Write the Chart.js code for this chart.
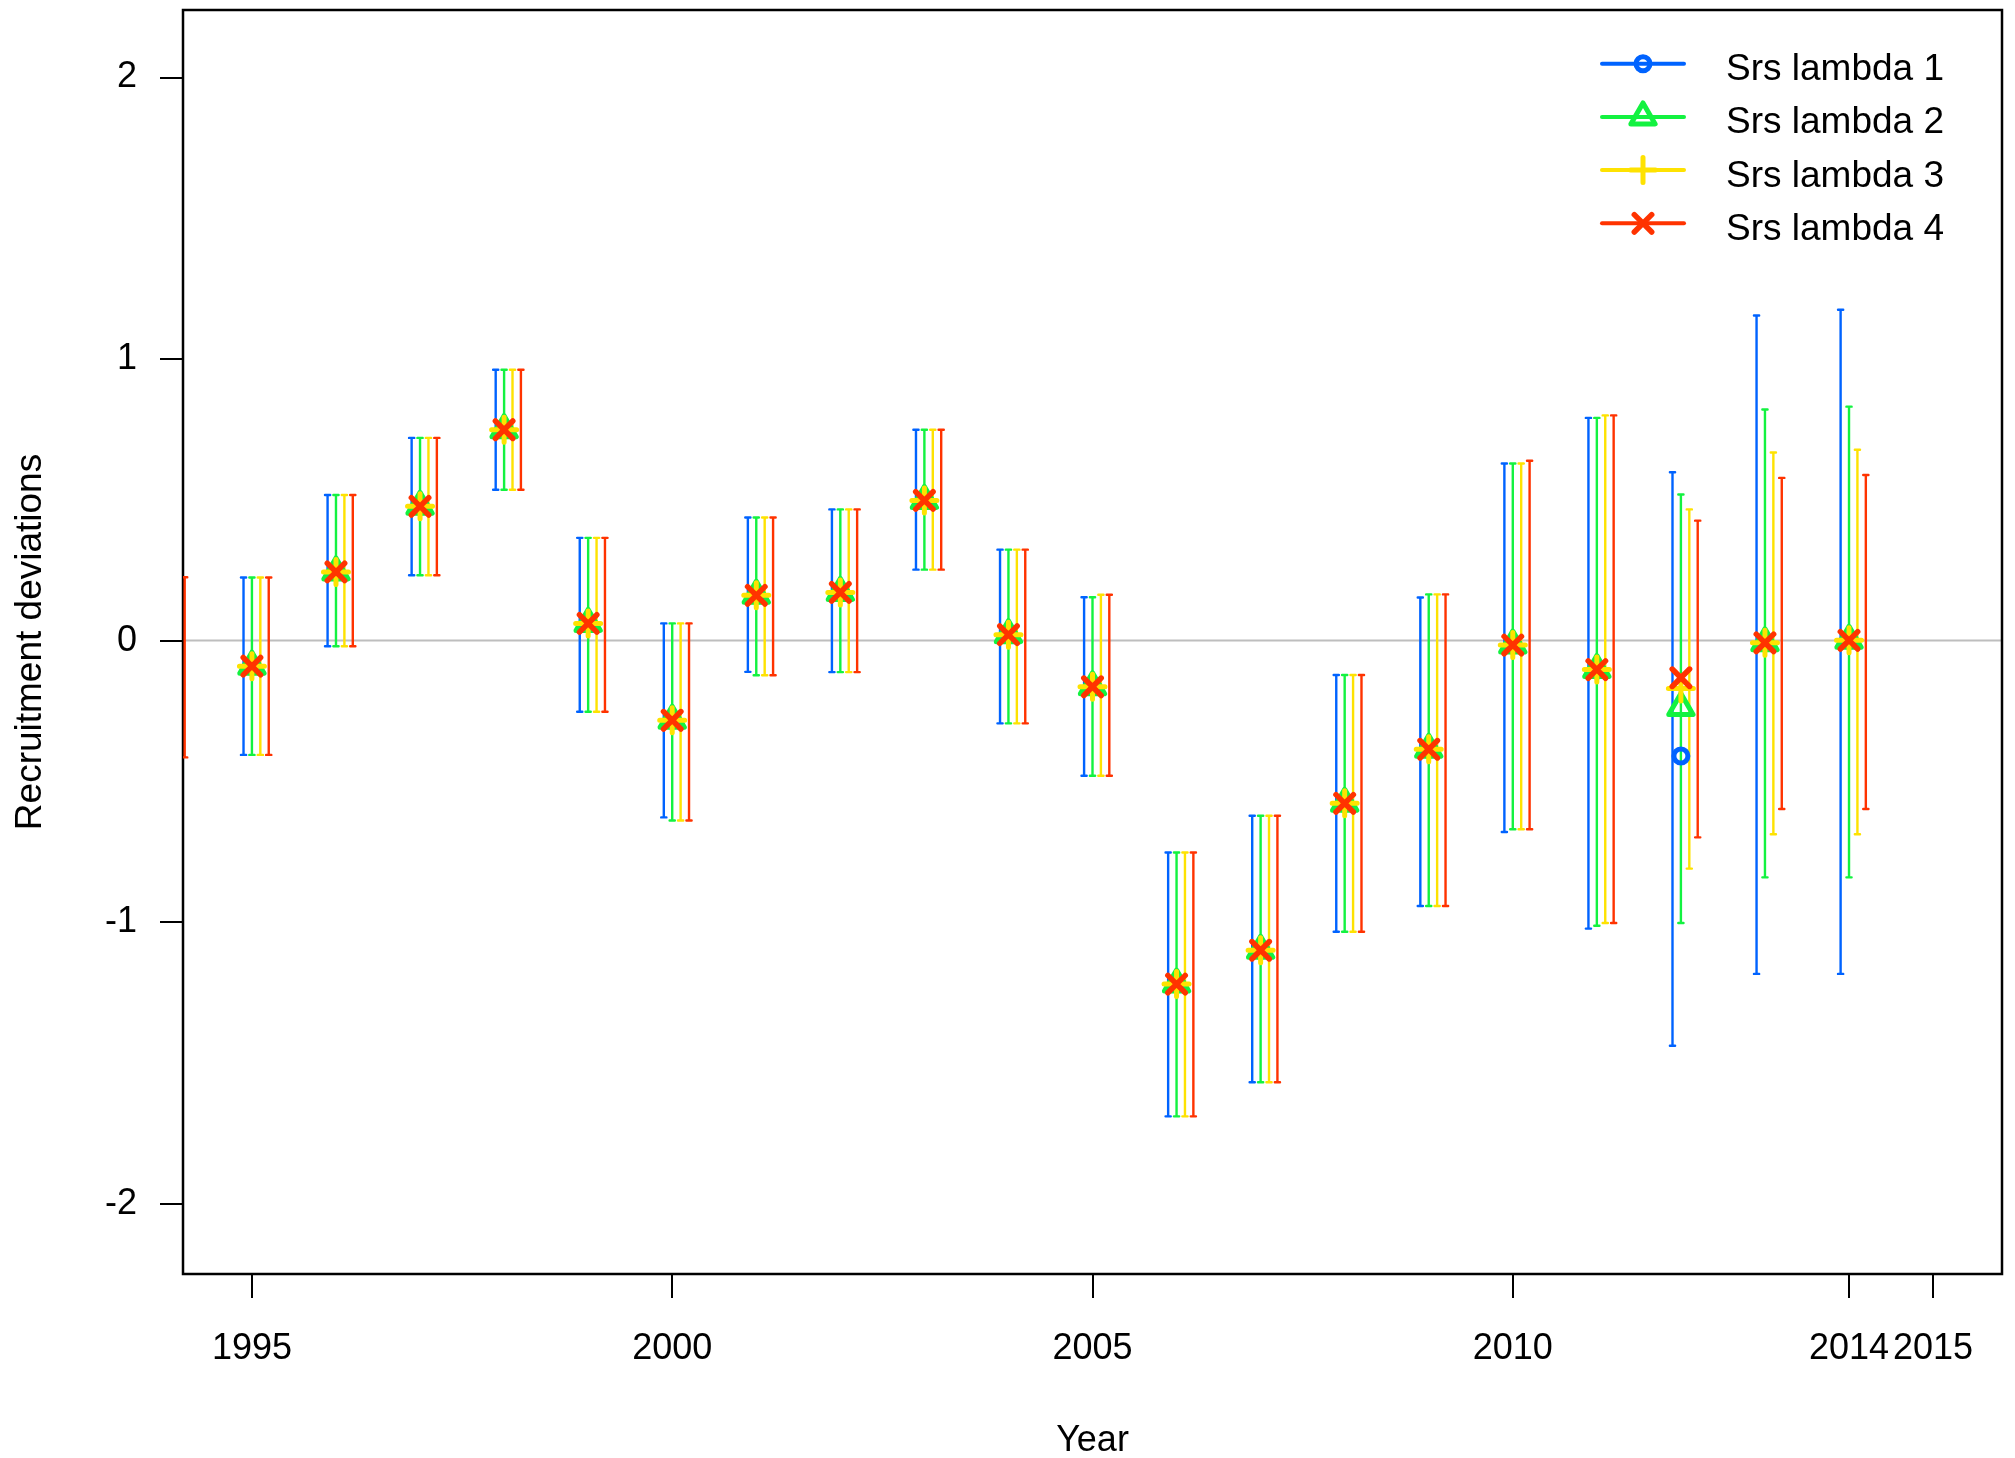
<!DOCTYPE html>
<html>
<head>
<meta charset="utf-8">
<script src="https://cdn.jsdelivr.net/npm/chart.js@4.4.1/dist/chart.umd.min.js"></script>
<style>
html,body{margin:0;padding:0;background:#ffffff;}
#wrap{width:2015px;height:1458px;}
</style>
</head>
<body>
<div id="wrap"><canvas id="c" width="2015" height="1458"></canvas></div>
<script>
// ---------------- DATA ----------------
const years = [1995,1996,1997,1998,1999,2000,2001,2002,2003,2004,2005,2006,2007,2008,2009,2010,2011,2012,2013,2014];
const yearsRed = [1994,1995,1996,1997,1998,1999,2000,2001,2002,2003,2004,2005,2006,2007,2008,2009,2010,2011,2012,2013,2014];

const seriesNames = ['Srs lambda 1','Srs lambda 2','Srs lambda 3','Srs lambda 4'];
const seriesColors = ['#0063FF','#13F240','#FEE201','#FF3300'];

// Srs lambda 1
const est1 = [-0.091,0.244,0.477,0.749,0.061,-0.283,0.161,0.171,0.498,0.021,-0.164,-1.220,-1.100,-0.578,-0.386,-0.016,-0.105,-0.410,-0.008,0.001];
const hi1  = [0.224,0.517,0.720,0.962,0.365,0.061,0.437,0.466,0.749,0.323,0.154,-0.753,-0.622,-0.122,0.153,0.629,0.791,0.598,1.155,1.175];
const lo1  = [-0.406,-0.020,0.232,0.536,-0.253,-0.628,-0.111,-0.112,0.252,-0.294,-0.480,-1.690,-1.569,-1.034,-0.943,-0.680,-1.023,-1.439,-1.184,-1.184];
// Srs lambda 2
const est2 = [-0.091,0.244,0.477,0.749,0.061,-0.283,0.161,0.171,0.498,0.021,-0.164,-1.220,-1.100,-0.578,-0.386,-0.016,-0.103,-0.238,-0.008,0.001];
const hi2  = [0.224,0.517,0.720,0.962,0.365,0.061,0.437,0.466,0.749,0.323,0.154,-0.753,-0.622,-0.122,0.164,0.629,0.791,0.519,0.821,0.831];
const lo2  = [-0.406,-0.020,0.232,0.536,-0.253,-0.639,-0.123,-0.112,0.252,-0.294,-0.480,-1.690,-1.569,-1.034,-0.943,-0.670,-1.013,-1.003,-0.841,-0.841];
// Srs lambda 3
const est3 = [-0.091,0.244,0.477,0.749,0.061,-0.283,0.161,0.171,0.498,0.021,-0.164,-1.220,-1.100,-0.578,-0.386,-0.016,-0.103,-0.170,-0.008,0.001];
const hi3  = [0.224,0.517,0.720,0.962,0.365,0.061,0.437,0.466,0.749,0.323,0.163,-0.753,-0.622,-0.122,0.164,0.629,0.800,0.466,0.668,0.678];
const lo3  = [-0.406,-0.020,0.232,0.536,-0.253,-0.639,-0.123,-0.112,0.252,-0.294,-0.480,-1.690,-1.569,-1.034,-0.943,-0.670,-1.003,-0.810,-0.688,-0.688];
// Srs lambda 4 (starts in 1994)
const est4 = [-0.095,-0.091,0.244,0.477,0.749,0.061,-0.283,0.161,0.171,0.498,0.021,-0.164,-1.220,-1.100,-0.578,-0.386,-0.016,-0.103,-0.132,-0.008,0.001];
const hi4  = [0.225,0.224,0.517,0.720,0.962,0.365,0.061,0.437,0.466,0.749,0.323,0.163,-0.753,-0.622,-0.122,0.164,0.639,0.800,0.426,0.578,0.588];
const lo4  = [-0.415,-0.406,-0.020,0.232,0.536,-0.253,-0.639,-0.123,-0.112,0.252,-0.294,-0.480,-1.690,-1.569,-1.034,-0.943,-0.670,-1.003,-0.699,-0.598,-0.598];

// horizontal shift of each model's interval bars (years)
const barShift = [-0.1, 0.0, 0.1, 0.2];

const xTickValues = [1995,2000,2005,2010,2014,2015];
const yTickValues = [-2,-1,0,1,2];

// ---------------- BUILD ----------------
const FONT = '"Liberation Sans", Arial, Helvetica, sans-serif';
Chart.defaults.font.family = FONT;
Chart.defaults.font.size = 36;
Chart.defaults.color = '#000';

const markerStyles = [
  {style:'circle',   radius:7,    width:5},
  {style:'triangle', radius:14,   width:5},
  {style:'cross',    radius:12.5, width:5},
  {style:'crossRot', radius:12.3, width:5.5}
];

const series = [
  {years: years,    est: est1, hi: hi1, lo: lo1},
  {years: years,    est: est2, hi: hi2, lo: lo2},
  {years: years,    est: est3, hi: hi3, lo: lo3},
  {years: yearsRed, est: est4, hi: hi4, lo: lo4}
];

const datasets = series.map((s, k) => ({
  label: seriesNames[k],
  data: s.years.map((yr, i) => ({x: yr, y: s.est[i]})),
  showLine: false,
  pointStyle: markerStyles[k].style,
  pointRadius: markerStyles[k].radius,
  pointHoverRadius: markerStyles[k].radius,
  pointBorderWidth: markerStyles[k].width,
  pointBorderColor: seriesColors[k],
  pointBackgroundColor: 'rgba(0,0,0,0)',
  borderColor: seriesColors[k],
  backgroundColor: seriesColors[k],
  order: 4 - k,
  clip: 0
}));

function drawMarker(ctx, k, x, y) {
  const m = markerStyles[k], r = m.radius;
  ctx.save();
  ctx.strokeStyle = seriesColors[k];
  ctx.lineWidth = m.width;
  ctx.lineCap = 'round';
  ctx.lineJoin = 'round';
  ctx.beginPath();
  if (m.style === 'circle') {
    ctx.arc(x, y, r, 0, Math.PI * 2);
  } else if (m.style === 'triangle') {
    ctx.moveTo(x, y - r);
    ctx.lineTo(x + 0.8660254 * r, y + 0.5 * r);
    ctx.lineTo(x - 0.8660254 * r, y + 0.5 * r);
    ctx.closePath();
  } else if (m.style === 'cross') {
    ctx.moveTo(x - r, y); ctx.lineTo(x + r, y);
    ctx.moveTo(x, y - r); ctx.lineTo(x, y + r);
  } else {
    const d = r * Math.SQRT1_2;
    ctx.moveTo(x - d, y - d); ctx.lineTo(x + d, y + d);
    ctx.moveTo(x + d, y - d); ctx.lineTo(x - d, y + d);
  }
  ctx.stroke();
  ctx.restore();
}

const intervalsPlugin = {
  id: 'intervals',
  beforeDatasetsDraw(chart) {
    const {ctx, chartArea: a, scales: {x, y}} = chart;
    ctx.save();
    ctx.beginPath();
    ctx.rect(a.left, a.top, a.right - a.left, a.bottom - a.top);
    ctx.clip();
    // zero reference line
    const y0 = y.getPixelForValue(0);
    ctx.strokeStyle = '#BEBEBE';
    ctx.lineWidth = 2;
    ctx.beginPath(); ctx.moveTo(a.left, y0); ctx.lineTo(a.right, y0); ctx.stroke();
    ctx.restore();

    // plot box
    ctx.save();
    ctx.strokeStyle = '#000';
    ctx.lineWidth = 2.5;
    ctx.strokeRect(a.left, a.top, a.right - a.left, a.bottom - a.top);
    ctx.restore();

    // interval bars
    ctx.save();
    ctx.beginPath();
    ctx.rect(a.left, a.top, a.right - a.left, a.bottom - a.top);
    ctx.clip();
    ctx.lineCap = 'round';
    ctx.lineWidth = 2.4;
    series.forEach((s, k) => {
      ctx.strokeStyle = seriesColors[k];
      s.years.forEach((yr, i) => {
        const px = x.getPixelForValue(yr + barShift[k]);
        const pl = y.getPixelForValue(s.lo[i]);
        const ph = y.getPixelForValue(s.hi[i]);
        ctx.beginPath();
        ctx.moveTo(px, pl); ctx.lineTo(px, ph);
        ctx.moveTo(px - 2.6, pl); ctx.lineTo(px + 2.6, pl);
        ctx.moveTo(px - 2.6, ph); ctx.lineTo(px + 2.6, ph);
        ctx.stroke();
      });
    });
    ctx.restore();
    ctx.lineCap = 'round';
    ctx.lineJoin = 'round';
  },
  afterDatasetsDraw(chart) {
    chart.ctx.lineCap = 'butt';
    chart.ctx.lineJoin = 'miter';
  },
  afterDraw(chart) {
    const {ctx, chartArea: a} = chart;
    const lineX0 = a.right - 400, lineX1 = a.right - 318, markX = a.right - 359;
    const textX = a.right - 276;
    ctx.save();
    seriesNames.forEach((name, k) => {
      const ly = a.top + 53.7 + k * 53.2;
      ctx.strokeStyle = seriesColors[k];
      ctx.lineWidth = 4;
      ctx.lineCap = 'round';
      ctx.beginPath(); ctx.moveTo(lineX0, ly); ctx.lineTo(lineX1, ly); ctx.stroke();
      drawMarker(ctx, k, markX, ly);
      ctx.fillStyle = '#000';
      ctx.font = '37px ' + FONT;
      ctx.textAlign = 'left';
      ctx.textBaseline = 'alphabetic';
      ctx.fillText(name, textX, ly + 16.5);
    });
    ctx.restore();
  }
};

new Chart(document.getElementById('c'), {
  type: 'scatter',
  data: { datasets },
  options: {
    responsive: false,
    devicePixelRatio: 1,
    animation: false,
    events: [],
    layout: { autoPadding: false, padding: { top: 10, right: 13, left: 0, bottom: 0 } },
    plugins: { legend: { display: false }, tooltip: { enabled: false }, title: { display: false } },
    scales: {
      x: {
        type: 'linear',
        min: 1994.18,
        max: 2015.82,
        afterBuildTicks: s => { s.ticks = xTickValues.map(v => ({value: v})); },
        afterFit: s => { s.height = 184; s.paddingLeft = 0; s.paddingRight = 0; },
        ticks: { autoSkip: false, maxRotation: 0, minRotation: 0, padding: 29.5, color: '#000', font: {size: 36}, callback: v => String(v) },
        grid: { drawOnChartArea: false, drawTicks: true, tickLength: 24, color: '#000', lineWidth: 2 },
        border: { display: false },
        title: { display: true, text: 'Year', color: '#000', font: {size: 36, lineHeight: 0.92}, padding: {top: 0, bottom: 0} }
      },
      y: {
        type: 'linear',
        min: -2.25,
        max: 2.24,
        afterBuildTicks: s => { s.ticks = yTickValues.map(v => ({value: v})); },
        afterFit: s => { s.width = 183; s.paddingTop = 0; s.paddingBottom = 0; },
        ticks: { padding: 23, color: '#000', font: {size: 36}, callback: v => String(v) },
        grid: { drawOnChartArea: false, drawTicks: true, tickLength: 23, color: '#000', lineWidth: 2 },
        border: { display: false },
        title: { display: true, text: 'Recruitment deviations', color: '#000', font: {size: 37, lineHeight: 1.1}, padding: {top: 10, bottom: 0} }
      }
    }
  },
  plugins: [intervalsPlugin]
});
</script>
</body>
</html>
